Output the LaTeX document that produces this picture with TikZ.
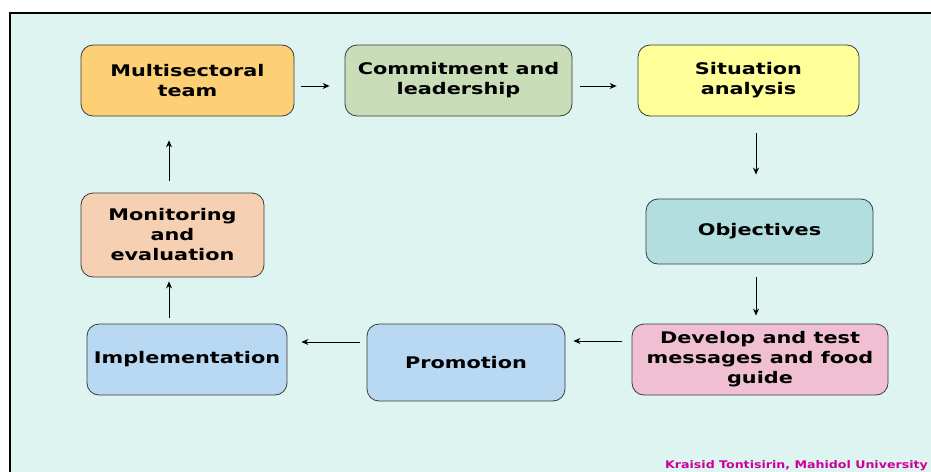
\documentclass[tikz,border=0pt]{standalone}
\usepackage{fontspec}
\setmainfont{DejaVu Sans}
\newfontfamily\widebold[FakeStretch=1.3]{DejaVu Sans Bold}
\newfontfamily\creditfont[FakeStretch=1.2]{DejaVu Sans Bold}
\usetikzlibrary{arrows.meta}
\definecolor{panel}{HTML}{DDF4F1}
\definecolor{cOrange}{HTML}{FDD076}
\definecolor{cGreen}{HTML}{C8DDB8}
\definecolor{cYellow}{HTML}{FFFF99}
\definecolor{cTeal}{HTML}{B3DEDF}
\definecolor{cPink}{HTML}{F0C0D2}
\definecolor{cBlue}{HTML}{B9D9F3}
\definecolor{cPeach}{HTML}{F5D0B2}
\definecolor{edge}{HTML}{3A3A3A}
\definecolor{credit}{HTML}{CC0099}
\tikzset{
  stepbox/.style={draw=edge, line width=0.8pt, rounded corners=12pt, inner sep=0pt,
    align=center, font=\widebold\fontsize{16}{20}\selectfont},
  flow/.style={draw=black, line width=1pt, -{Stealth[length=7pt,width=6pt]}},
}
\begin{document}
\begin{tikzpicture}[x=1pt,y=-1pt]
  \useasboundingbox (0,0) rectangle (931,471);
  \clip (0,0) rectangle (931,471);
  \fill[white] (0,0) rectangle (931,471);
  % framed panel running off the right and bottom edges
  \draw[line width=2pt, fill=panel] (10,13) rectangle (940,480);

  % process steps
  \node[stepbox, fill=cOrange, minimum width=213pt, minimum height=71pt] (team) at (187.5,80.5) {Multisectoral\\team};
  \node[stepbox, fill=cGreen, minimum width=227pt, minimum height=71pt] (comm) at (458.5,80.5) {Commitment and\\leadership};
  \node[stepbox, fill=cYellow, minimum width=221pt, minimum height=71pt] (sit) at (748.5,80.5) {Situation\\analysis};
  \node[stepbox, fill=cTeal, minimum width=227pt, minimum height=65pt] (obj) at (759.5,231.5) {Objectives};
  \node[stepbox, fill=cPink, minimum width=256pt, minimum height=71pt] (dev) at (760,359.5) {Develop and test\\messages and food\\guide};
  \node[stepbox, fill=cBlue, minimum width=198pt, minimum height=77pt] (promo) at (466,362.5) {Promotion};
  \node[stepbox, fill=cBlue, minimum width=200pt, minimum height=71pt] (impl) at (187,359.5) {Implementation};
  \node[stepbox, fill=cPeach, minimum width=183pt, minimum height=84pt] (mon) at (172.5,235) {Monitoring\\and\\evaluation};

  % connectors
  \draw[flow, shorten <=7pt, shorten >=15pt] ([yshift=-5.5pt]team.east) -- ([yshift=-5.5pt]team.east -| comm.west);
  \draw[flow, shorten <=8pt, shorten >=21pt] ([yshift=-5.5pt]comm.east) -- ([yshift=-5.5pt]comm.east -| sit.west);
  \draw[flow, shorten <=17pt, shorten >=24pt] (sit.south -| 756,0) -- (obj.north -| 756,0);
  \draw[flow, shorten <=13pt, shorten >=8pt] (obj.south -| 756,0) -- (dev.north -| 756,0);
  \draw[flow, shorten <=10pt, shorten >=8pt] ([yshift=18.5pt]dev.west) -- ([yshift=18.5pt]dev.west -| promo.east);
  \draw[flow, shorten <=7pt, shorten >=14pt] ([yshift=20.5pt]promo.west) -- ([yshift=20.5pt]promo.west -| impl.east);
  \draw[flow, shorten <=6pt, shorten >=4pt] (impl.north -| 169,0) -- (mon.south -| 169,0);
  \draw[flow, shorten <=12pt, shorten >=24pt] (mon.north -| 169,0) -- (team.south -| 169,0);

  % credit line, kept inside the page
  \node[anchor=base east, inner sep=0pt, text=credit, font=\creditfont\fontsize{10.5}{13}\selectfont] (credit) at (928,468) {Kraisid Tontisirin, Mahidol University};
\end{tikzpicture}
\end{document}
